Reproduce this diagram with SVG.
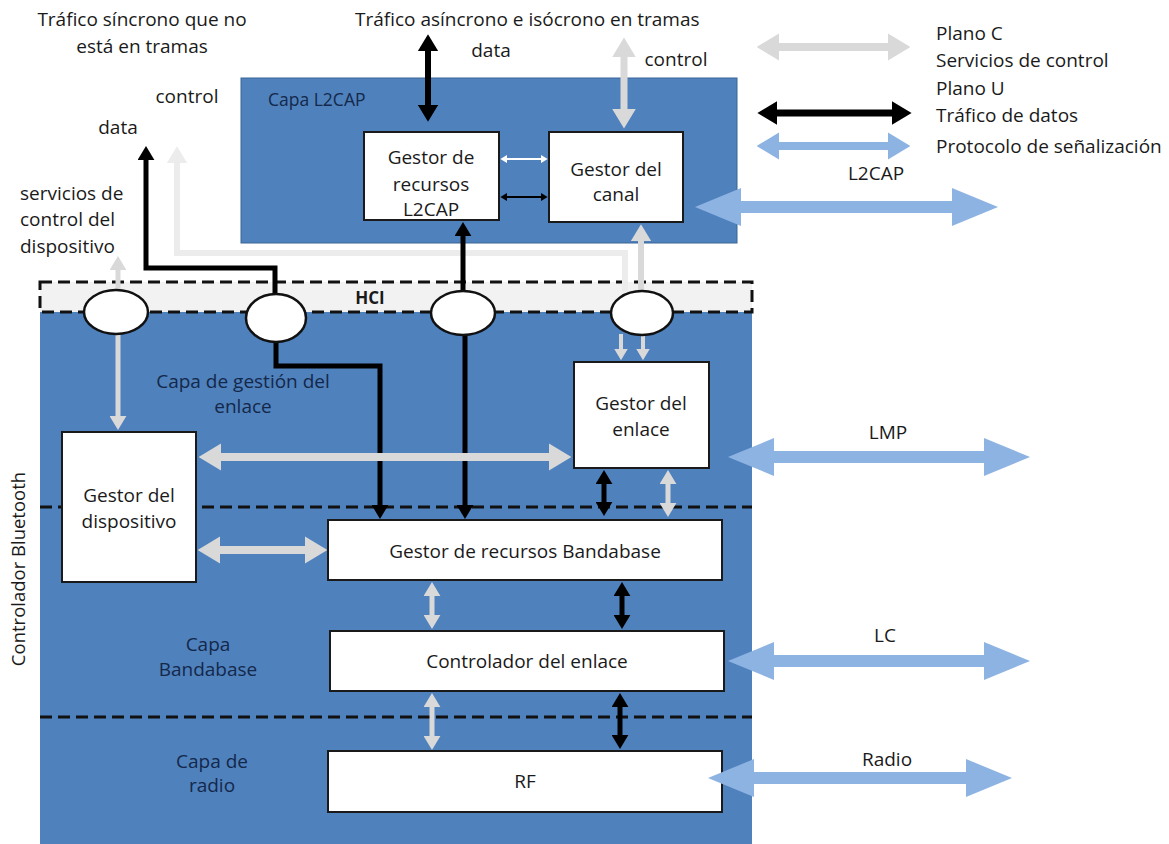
<svg xmlns="http://www.w3.org/2000/svg" width="1169" height="844" viewBox="0 0 1169 844">
  <defs>
    <style>
      text { font-family: "Open Sans", "Liberation Sans", sans-serif; font-size: 19px; fill: #1a1a1a; }
      .in { fill: #14284a; }
      .c { text-anchor: middle; }
      .box { fill: #ffffff; stroke: #1a1a1a; stroke-width: 2; }
      .layer { fill: #4f81bd; }
      .dash { stroke: #111; stroke-width: 3; stroke-dasharray: 12 6; fill: none; }
      .port { fill: #ffffff; stroke: #111; stroke-width: 2.5; }
      .blk { stroke: #000; fill: none; marker-end: url(#hb); }
      .gry { stroke: #d9d9d9; fill: none; marker-end: url(#hg); }
      .lgt { stroke: #ececec; fill: none; marker-end: url(#hl); }
      .blu { stroke: #8db3e2; fill: none; }
      .two-b { marker-start: url(#hb); }
      .two-g { marker-start: url(#hg); }
    </style>
    <!-- arrowheads scale with the stroke width of the line they sit on -->
    <marker id="hb" viewBox="0 0 10 12" refX="0" refY="6" markerWidth="2.8" markerHeight="3.4" orient="auto-start-reverse"><path d="M0,0 L10,6 L0,12 z" fill="#000"/></marker>
    <marker id="hg" viewBox="0 0 10 12" refX="0" refY="6" markerWidth="2.8" markerHeight="3.4" orient="auto-start-reverse"><path d="M0,0 L10,6 L0,12 z" fill="#d9d9d9"/></marker>
    <marker id="hl" viewBox="0 0 10 12" refX="0" refY="6" markerWidth="2.8" markerHeight="3.4" orient="auto-start-reverse"><path d="M0,0 L10,6 L0,12 z" fill="#ececec"/></marker>
    <marker id="hw" viewBox="0 0 10 12" refX="0" refY="6" markerWidth="3.5" markerHeight="4" orient="auto-start-reverse"><path d="M0,0 L10,6 L0,12 z" fill="#fff"/></marker>
    <marker id="hk" viewBox="0 0 10 12" refX="0" refY="6" markerWidth="3.5" markerHeight="4" orient="auto-start-reverse"><path d="M0,0 L10,6 L0,12 z" fill="#000"/></marker>
    <marker id="hu" viewBox="0 0 10 12" refX="0" refY="6" markerWidth="2.8" markerHeight="3.4" orient="auto-start-reverse"><path d="M0,0 L10,6 L0,12 z" fill="#8db3e2"/></marker>
    <marker id="hU" viewBox="0 0 46 38" refX="0" refY="19" markerWidth="46" markerHeight="38" markerUnits="userSpaceOnUse" orient="auto-start-reverse"><path d="M0,0 L46,19 L0,38 z" fill="#8db3e2"/></marker>
  </defs>

  <rect width="1169" height="844" fill="#ffffff"/>

  <!-- Bluetooth controller body and HCI strip -->
  <g id="controller">
    <rect class="layer" x="40" y="312" width="712" height="540"/>
    <rect x="40" y="282" width="712" height="30" fill="#f2f2f2"/>
    <rect class="dash" x="40" y="282" width="712" height="30"/>
    <text x="370" y="304" class="c" style="font-weight:bold;font-size:17px">HCI</text>
    <line class="dash" x1="40" y1="507" x2="752" y2="507"/>
    <line class="dash" x1="40" y1="717" x2="752" y2="717"/>
    <text transform="translate(25,569) rotate(-90)" class="c" style="font-size:18.5px">Controlador Bluetooth</text>
    <text x="243" y="388" class="c in">Capa de gestión del</text>
    <text x="243" y="413" class="c in">enlace</text>
    <text x="208" y="651" class="c in">Capa</text>
    <text x="208" y="676" class="c in">Bandabase</text>
    <text x="212" y="768" class="c in">Capa de</text>
    <text x="212" y="792" class="c in">radio</text>
  </g>

  <!-- L2CAP layer -->
  <g id="l2cap-layer">
    <rect class="layer" x="241" y="78" width="496" height="165" stroke="#3a6596" stroke-width="1"/>
    <text x="268" y="106" class="in" style="font-size:17.5px">Capa L2CAP</text>
  </g>

  <g id="l2cap-resources">
    <rect class="box" x="364" y="132" width="135" height="88"/>
    <text x="431" y="164" class="c">Gestor de</text>
    <text x="431" y="191" class="c">recursos</text>
    <text x="431" y="216" class="c">L2CAP</text>
  </g>
  <g id="channel-manager">
    <rect class="box" x="549" y="132" width="134" height="90"/>
    <text x="616" y="176" class="c">Gestor del</text>
    <text x="616" y="201" class="c">canal</text>
  </g>
  <g id="link-manager">
    <rect class="box" x="574" y="362" width="135" height="106"/>
    <text x="641" y="410" class="c">Gestor del</text>
    <text x="641" y="436" class="c">enlace</text>
  </g>
  <g id="device-manager">
    <rect class="box" x="62" y="432" width="134" height="150"/>
    <text x="129" y="502" class="c">Gestor del</text>
    <text x="129" y="528" class="c">dispositivo</text>
  </g>
  <g id="baseband-resources">
    <rect class="box" x="328" y="520" width="394" height="60"/>
    <text x="525" y="558" class="c">Gestor de recursos Bandabase</text>
  </g>
  <g id="link-controller">
    <rect class="box" x="330" y="631" width="394" height="60"/>
    <text x="527" y="668" class="c">Controlador del enlace</text>
  </g>
  <g id="rf">
    <rect class="box" x="328" y="751" width="394" height="61"/>
    <text x="525" y="788" class="c">RF</text>
  </g>

  <!-- connectors -->
  <g id="connectors">
    <!-- control plane path to the host -->
    <path class="lgt" stroke-width="6" d="M625,292 V253 H177 V163"/>
    <!-- data paths -->
    <path class="blk" stroke-width="5" d="M275,296 V268 H146 V160"/>
    <path class="blk" stroke-width="5" d="M276,342 V366 H380 V505"/>
    <line class="blk" stroke-width="5" x1="463" y1="291" x2="463" y2="236"/>
    <line class="blk" stroke-width="5" x1="465" y1="335" x2="465" y2="505"/>
    <line class="blk two-b" stroke-width="6" x1="428" y1="51" x2="428" y2="105"/>
    <line class="blk two-b" stroke-width="5" x1="604" y1="484" x2="604" y2="502"/>
    <line class="blk two-b" stroke-width="5" x1="622" y1="596" x2="622" y2="615"/>
    <line class="blk two-b" stroke-width="5" x1="620" y1="707" x2="620" y2="735"/>
    <!-- between the two L2CAP managers -->
    <line x1="507" y1="159" x2="541" y2="159" stroke="#fff" stroke-width="2" marker-start="url(#hw)" marker-end="url(#hw)"/>
    <line x1="507" y1="197" x2="541" y2="197" stroke="#000" stroke-width="2" marker-start="url(#hk)" marker-end="url(#hk)"/>
    <!-- control services -->
    <line class="gry two-g" stroke-width="7" x1="624" y1="57" x2="624" y2="109"/>
    <line class="gry" stroke-width="6" x1="641" y1="292" x2="641" y2="241"/>
    <line class="gry" stroke-width="5" x1="118" y1="290" x2="118" y2="270"/>
    <line class="gry" stroke-width="5" x1="118" y1="334" x2="118" y2="416"/>
    <line class="gry" stroke-width="4" x1="621" y1="334" x2="621" y2="349"/>
    <line class="gry" stroke-width="4" x1="643" y1="334" x2="643" y2="349"/>
    <line class="gry two-g" stroke-width="8" x1="221" y1="457" x2="549" y2="457"/>
    <line class="gry two-g" stroke-width="8" x1="220" y1="550" x2="305" y2="550"/>
    <line class="gry two-g" stroke-width="5" x1="668" y1="484" x2="668" y2="503"/>
    <line class="gry two-g" stroke-width="5" x1="432" y1="596" x2="432" y2="615"/>
    <line class="gry two-g" stroke-width="5" x1="432" y1="707" x2="432" y2="736"/>
    <!-- peer signalling protocols -->
    <line class="blu" stroke-width="12" x1="741" y1="207" x2="952" y2="207" marker-start="url(#hU)" marker-end="url(#hU)"/>
    <line class="blu" stroke-width="12" x1="774" y1="457" x2="984" y2="457" marker-start="url(#hU)" marker-end="url(#hU)"/>
    <line class="blu" stroke-width="12" x1="774" y1="661" x2="984" y2="661" marker-start="url(#hU)" marker-end="url(#hU)"/>
    <line class="blu" stroke-width="12" x1="754" y1="778" x2="966" y2="778" marker-start="url(#hU)" marker-end="url(#hU)"/>
  </g>

  <!-- HCI access points -->
  <g id="hci-ports">
    <ellipse class="port" cx="116" cy="312" rx="32" ry="22"/>
    <ellipse class="port" cx="276" cy="318" rx="30" ry="24"/>
    <ellipse class="port" cx="463" cy="313" rx="32" ry="22"/>
    <ellipse class="port" cx="642" cy="313" rx="31" ry="22"/>
  </g>

  <!-- free labels -->
  <g id="labels">
    <text x="142" y="26" class="c">Tráfico síncrono que no</text>
    <text x="142" y="53" class="c">está en tramas</text>
    <text x="355" y="26">Tráfico asíncrono e isócrono en tramas</text>
    <text x="491" y="57" class="c">data</text>
    <text x="676" y="66" class="c">control</text>
    <text x="187" y="103" class="c">control</text>
    <text x="118" y="134" class="c">data</text>
    <text x="20" y="200">servicios de</text>
    <text x="20" y="226">control del</text>
    <text x="20" y="253">dispositivo</text>
    <text x="876" y="180" class="c">L2CAP</text>
    <text x="888" y="439" class="c">LMP</text>
    <text x="885" y="642" class="c">LC</text>
    <text x="887" y="766" class="c">Radio</text>
  </g>

  <!-- legend -->
  <g id="legend">
    <line stroke="#d9d9d9" stroke-width="8" x1="779" y1="47" x2="888" y2="47" marker-start="url(#hg)" marker-end="url(#hg)"/>
    <line stroke="#000" stroke-width="7" x1="777" y1="113" x2="892" y2="113" marker-start="url(#hb)" marker-end="url(#hb)"/>
    <line stroke="#8db3e2" stroke-width="8" x1="779" y1="146" x2="888" y2="146" marker-start="url(#hu)" marker-end="url(#hu)"/>
    <text x="936" y="40">Plano C</text>
    <text x="936" y="67">Servicios de control</text>
    <text x="936" y="95">Plano U</text>
    <text x="936" y="122">Tráfico de datos</text>
    <text x="936" y="153">Protocolo de señalización</text>
  </g>
</svg>
